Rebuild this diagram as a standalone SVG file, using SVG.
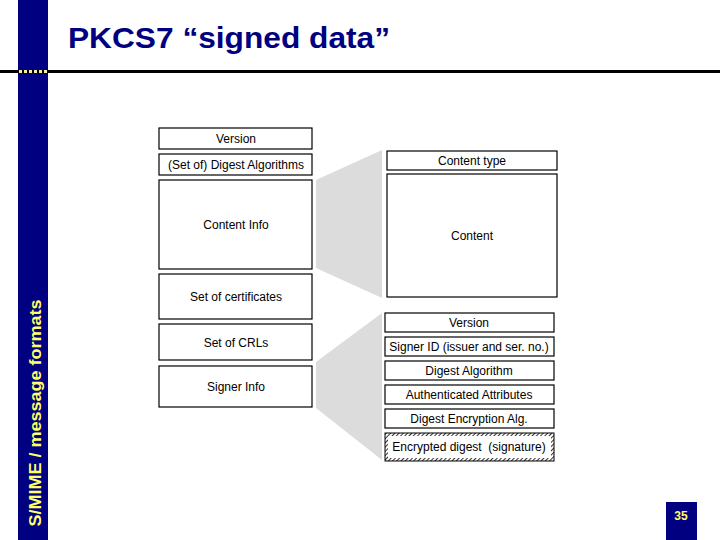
<svg xmlns="http://www.w3.org/2000/svg" width="720" height="540" viewBox="0 0 720 540">
<style>
.box{fill:#fff;stroke:#000;stroke-width:1.2}
.t{font-family:"Liberation Sans",Arial,sans-serif;font-size:12px;fill:#000;text-anchor:middle}
.trap{fill:#dcdcdc}
</style>
<defs>
<pattern id="hatch" width="3" height="3" patternUnits="userSpaceOnUse" patternTransform="rotate(45)">
<rect width="3" height="3" fill="#fff"/>
<line x1="0" y1="0" x2="0" y2="3" stroke="#000" stroke-width="1.6"/>
</pattern>
</defs>
<rect width="720" height="540" fill="#fff"/>
<g id="frame">
<rect x="18" y="0" width="30" height="540" fill="#000080"/>
<rect x="0" y="70" width="720" height="3" fill="#000"/>
<line x1="19" y1="71.5" x2="47" y2="71.5" stroke="#f5f0a0" stroke-width="3" stroke-dasharray="3,2"/>
<text x="68" y="48" font-family="'Liberation Sans',Arial,sans-serif" font-size="30" font-weight="bold" fill="#000080" textLength="322" lengthAdjust="spacingAndGlyphs">PKCS7 “signed data”</text>
<text transform="translate(41,413) rotate(-90)" font-family="'Liberation Sans',Arial,sans-serif" font-size="17" font-weight="bold" fill="#ffff66" text-anchor="middle" textLength="227" lengthAdjust="spacingAndGlyphs">S/MIME / message formats</text>
<rect x="666" y="502" width="31" height="38" fill="#000080"/>
<text x="681" y="520" font-family="'Liberation Sans',Arial,sans-serif" font-size="12" font-weight="bold" fill="#ffff66" text-anchor="middle">35</text>
</g>
<g id="connectors">
<polygon class="trap" points="316,180 382,150 382,298 316,268"/>
<polygon class="trap" points="316,362 382,313 382,460 316,408"/>
</g>
<g id="version"><rect class="box" x="159" y="128" width="153" height="21"/><text class="t" x="236" y="143">Version</text></g>
<g id="digest-algorithms"><rect class="box" x="159" y="154" width="153" height="21"/><text class="t" x="236" y="169">(Set of) Digest Algorithms</text></g>
<g id="content-info"><rect class="box" x="159" y="180" width="153" height="89"/><text class="t" x="236" y="229">Content Info</text></g>
<g id="certificates"><rect class="box" x="159" y="274" width="153" height="45"/><text class="t" x="236" y="301">Set of certificates</text></g>
<g id="crls"><rect class="box" x="159" y="324" width="153" height="36"/><text class="t" x="236" y="347">Set of CRLs</text></g>
<g id="signer-info"><rect class="box" x="159" y="366" width="153" height="41"/><text class="t" x="236" y="391">Signer Info</text></g>
<g id="content-type"><rect class="box" x="387" y="151" width="170" height="19"/><text class="t" x="472" y="165">Content type</text></g>
<g id="content"><rect class="box" x="387" y="174" width="170" height="123"/><text class="t" x="472" y="240">Content</text></g>
<g id="si-version"><rect class="box" x="385" y="313" width="169" height="19"/><text class="t" x="469" y="327">Version</text></g>
<g id="signer-id"><rect class="box" x="385" y="337" width="169" height="19"/><text class="t" x="469" y="351">Signer ID (issuer and ser. no.)</text></g>
<g id="digest-algorithm"><rect class="box" x="385" y="361" width="169" height="19"/><text class="t" x="469" y="375">Digest Algorithm</text></g>
<g id="auth-attrs"><rect class="box" x="385" y="385" width="169" height="19"/><text class="t" x="469" y="399">Authenticated Attributes</text></g>
<g id="digest-enc-alg"><rect class="box" x="385" y="409" width="169" height="19"/><text class="t" x="469" y="423">Digest Encryption Alg.</text></g>
<g id="encrypted-digest"><rect x="385" y="433" width="169" height="28" fill="url(#hatch)" stroke="#000" stroke-width="1"/><rect x="388" y="436" width="163" height="22" fill="#fff"/><text class="t" x="469" y="451">Encrypted digest&#160; (signature)</text></g>
</svg>
